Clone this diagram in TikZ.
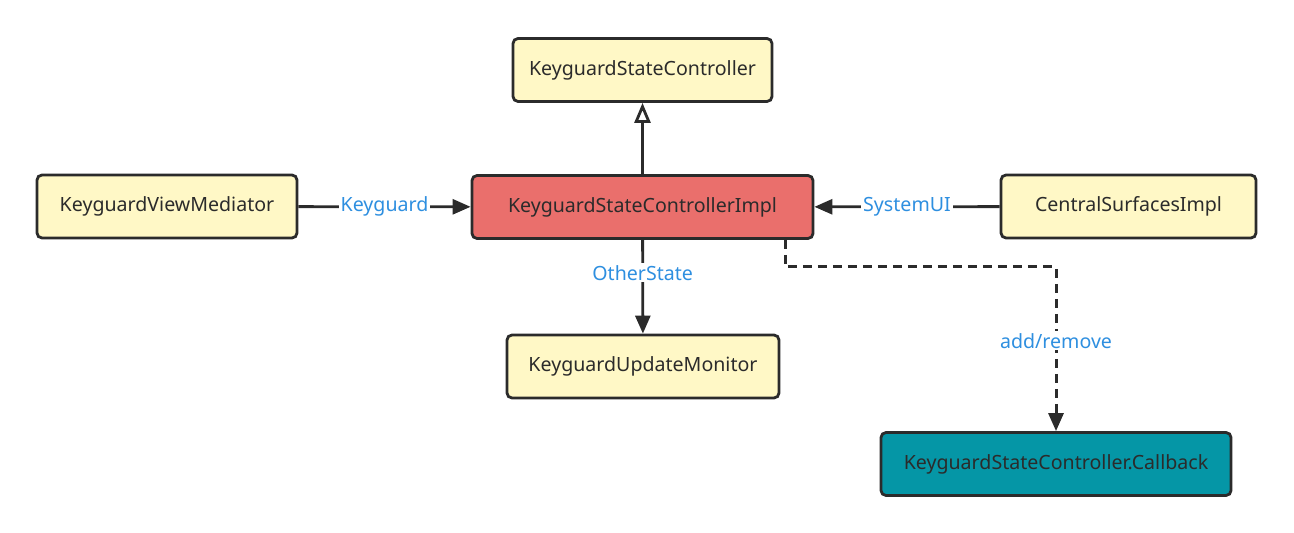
\documentclass[tikz,border=0pt]{standalone}
\usepackage{fontspec}
\setmainfont{Noto Sans}
\usetikzlibrary{arrows.meta}
\definecolor{boxyellow}{HTML}{FFF8C6}
\definecolor{boxred}{HTML}{EA6F6C}
\definecolor{boxteal}{HTML}{0596A6}
\definecolor{linkblue}{HTML}{2E8FE0}
\definecolor{edgegray}{HTML}{2B2B2B}
\tikzset{
  cls/.style={draw=edgegray,line width=1.4pt,rounded corners=2.5pt,fill=boxyellow,
    minimum height=31.5pt,font=\fontsize{9.8}{12}\selectfont,text=edgegray},
  lab/.style={fill=white,inner sep=1pt,text=linkblue,font=\fontsize{9.8}{12}\selectfont},
}
\begin{document}
\begin{tikzpicture}[x=0.5pt,y=-0.5pt,line width=1.4pt,draw=edgegray,>={Triangle[length=9pt,width=7.5pt]}]
\useasboundingbox (0,0) rectangle (1294,533);
\node[cls,minimum width=129.5pt](ksc) at (642.5,70){KeyguardStateController};
\node[cls,minimum width=130pt](kvm) at (167,206.5){KeyguardViewMediator};
\node[cls,fill=boxred,minimum width=170.5pt](impl) at (642.5,207){KeyguardStateControllerImpl};
\node[cls,minimum width=127.5pt](csi) at (1128.5,206.5){CentralSurfacesImpl};
\node[cls,minimum width=136pt](kum) at (643,366.5){KeyguardUpdateMonitor};
\node[cls,fill=boxteal,minimum width=175pt](cb) at (1056,464){KeyguardStateController.Callback};
\coordinate (turn) at (785,267);
\draw[-{Triangle[open,length=10pt,width=8pt,line width=1.4pt]},edgegray](impl)--(ksc);
\draw[->,edgegray](kvm)--node[lab]{Keyguard}(impl);
\draw[->,edgegray](csi)--node[lab]{SystemUI}(impl);
\draw[->,edgegray](impl)--node[lab,pos=0.35]{OtherState}(kum);
\draw[->,edgegray,line width=1.5pt,dash pattern=on 4.5pt off 3pt](impl.south -| turn)|-(turn-|cb)
  --node[lab,pos=0.45]{add/remove}(cb);
\end{tikzpicture}
\end{document}
